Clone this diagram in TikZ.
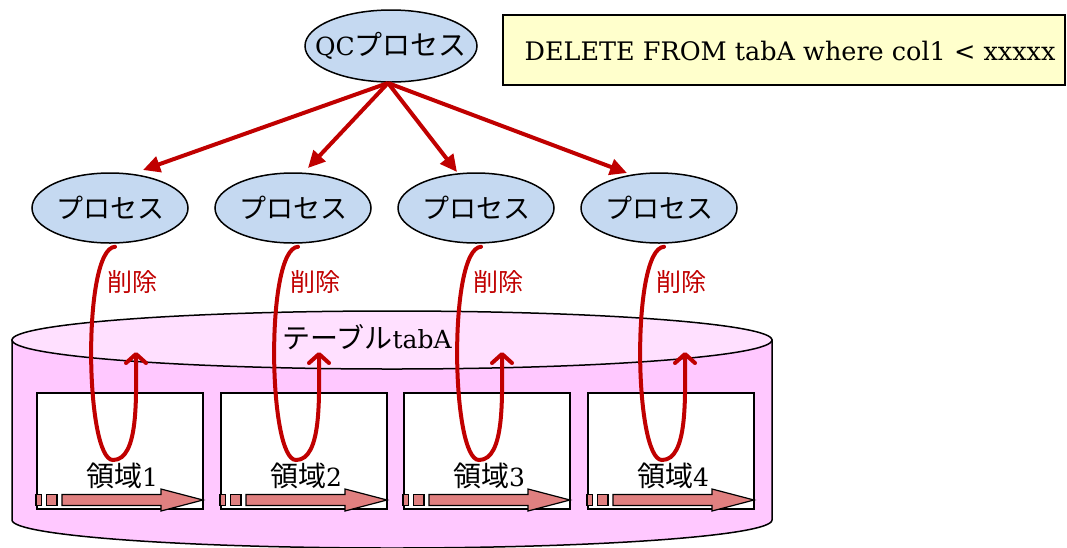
\documentclass[tikz,border=0pt]{standalone}
\usepackage{fontspec}
\setmainfont{DejaVu Serif}
\newfontfamily\jp{Noto Sans CJK JP}
\usetikzlibrary{arrows.meta,shapes.geometric,calc}
\definecolor{procblue}{HTML}{C5D9F1}
\definecolor{dred}{HTML}{C00000}
\definecolor{cylbody}{HTML}{FFC8FF}
\definecolor{cyltop}{HTML}{FFE0FF}
\definecolor{arrpink}{HTML}{E08080}
\definecolor{noteyellow}{HTML}{FFFFCC}
\newcommand\jpbig{\jp\fontsize{28}{30}\selectfont}
\tikzset{
  proc/.style={ellipse,draw=black,line width=1.5pt,fill=procblue,minimum width=156pt,minimum height=70pt,inner xsep=-40pt,inner ysep=-10pt,font=\jp\fontsize{27}{30}\selectfont},
  qcproc/.style={ellipse,draw=black,line width=1.5pt,fill=procblue,minimum width=172pt,minimum height=72pt,inner xsep=-40pt,inner ysep=-10pt,font=\fontsize{25}{28}\selectfont},
  fanout/.style={draw=dred,line width=4pt,-{Triangle[length=17pt,width=16pt]}},
  loopline/.style={draw=dred,line width=4pt,line cap=round,-{Straight Barb[length=9pt,width=20pt,line width=4pt,round]}},
  dellabel/.style={text=dred,font=\jp\fontsize{25}{28}\selectfont,inner sep=0pt},
  region/.style={draw=black,line width=1.5pt,fill=white,minimum width=166pt,minimum height=116pt,inner sep=0pt},
  regtext/.style={font=\fontsize{25}{28}\selectfont,inner sep=0pt},
  blockarr/.style={draw=black,line width=1.2pt,fill=arrpink},
}
\begin{document}
\begin{tikzpicture}[x=1pt,y=-1pt]
\useasboundingbox (0,0) rectangle (1067,547);
% cylinder
\path[draw=black,line width=1.5pt,fill=cylbody] (12,340) -- (12,520)
  .. controls (12,535.46) and (182.1,548) .. (392,548)
  .. controls (601.9,548) and (772,535.46) .. (772,520) -- (772,340) -- cycle;
\node[ellipse,draw=black,line width=1.5pt,fill=cyltop,minimum width=760pt,minimum height=58pt,inner sep=0pt] (cyl) at (392,340) {};
\node[font=\fontsize{25}{28}\selectfont,inner sep=0pt] (tab) at (367,337) {{\jpbig テーブル}tabA};
% note
\node[draw=black,line width=1.5pt,fill=noteyellow,minimum width=562pt,minimum height=70pt,inner sep=0pt] (note) at (784,50) {};
\node[font=\fontsize{25.5}{28}\selectfont,inner sep=0pt] (notetext) at (790,51) {DELETE FROM tabA where col1 < xxxxx};
% QC process
\node[qcproc] (qc) at (391,46) {QC{\jpbig プロセス}};
% processes
\foreach \i/\cx in {1/110,2/293,3/476,4/659}{
  \node[proc] (p\i) at (\cx,208) {プロセス};
}
% regions
\foreach \i/\x in {1/36,2/220,3/403,4/587}{
  \node[region,anchor=north west] (r\i) at (\x,392) {};
  \node[regtext] (rt\i) at (\x+86,476) {{\jpbig 領域}\i};
  \path[blockarr] (\x,494.5) rectangle (\x+5.5,505.5);
  \path[blockarr] (\x+10.5,494.5) rectangle (\x+21,505.5);
  \path[blockarr] (\x+26,494.5) -- (\x+125,494.5) -- (\x+125,489) -- (\x+167,500) -- (\x+125,511) -- (\x+125,505.5) -- (\x+26,505.5) -- cycle;
}
% fan-out arrows
\coordinate (t1) at (143,170);
\coordinate (t2) at (308,168);
\coordinate (t3) at (457,172);
\coordinate (t4) at (627,173);
\coordinate (qcb) at (388,83);
\foreach \i in {1,...,4}{
  \draw[fanout] (qcb) -- (t\i);
}
% loops
\foreach \i/\cx in {1/110,2/293,3/476,4/659}{
  \coordinate (b\i) at (\cx+3,460);
  \coordinate (h\i) at (\cx+26,352);
  \draw[loopline] ([xshift=5pt,yshift=-3pt]p\i.south) .. controls +(-33,2) and +(-28,0) .. (b\i)
     .. controls +(26,0) and +(0,45) .. (h\i);
  \node[dellabel] (d\i) at (\cx+22,282) {削除};
}
\end{tikzpicture}
\end{document}
